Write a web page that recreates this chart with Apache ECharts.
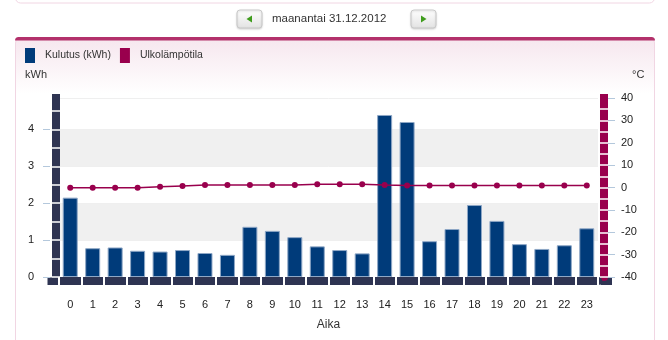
<!DOCTYPE html>
<html>
<head>
<meta charset="utf-8">
<script src="https://cdn.jsdelivr.net/npm/echarts@6/dist/echarts.min.js"></script>
<style>
  html, body { margin: 0; padding: 0; background: #fff; }
  #chart { width: 668px; height: 340px; }
</style>
</head>
<body>
<div id="chart"></div>
<script>
// Hourly consumption and outdoor temperature for one day
const hours = ['0','1','2','3','4','5','6','7','8','9','10','11','12','13','14','15','16','17','18','19','20','21','22','23'];
const consumption = [2.15, 0.78, 0.80, 0.71, 0.69, 0.73, 0.65, 0.60, 1.36, 1.25, 1.08, 0.83, 0.73, 0.64, 4.39, 4.20, 0.97, 1.30, 1.95, 1.52, 0.89, 0.76, 0.86, 1.32];
const temperature = [-0.1, -0.1, -0.1, -0.1, 0.3, 0.7, 1.1, 1.1, 1.1, 1.1, 1.1, 1.4, 1.4, 1.4, 1.1, 0.9, 0.9, 0.9, 0.9, 0.9, 0.9, 0.9, 0.9, 0.9];

// Axis ranges and tick values
const kwhMax = 4.85;
const kwhColumnTicks = [0, 0.5, 1, 1.5, 2, 2.5, 3, 3.5, 4, 4.5];
const tempMin = -40, tempMax = 40;
const tempColumnTicks = [-40, -35, -30, -25, -20, -15, -10, -5, 0, 5, 10, 15, 20, 25, 30, 35];

const dateLabel = 'maanantai 31.12.2012';
const seriesNames = ['Kulutus (kWh)', 'Ulkolämpötila'];

const FONT = 'Liberation Sans, Arial, sans-serif';
const NAVY = '#2e3452';
const BAR = '#003b7a';
const MAGENTA = '#99004d';
const TICK = '#b4c8dc';

const chart = echarts.init(document.getElementById('chart'), null, { renderer: 'canvas' });

function button(x, dir) {
  const cx = x + 12.5, cy = 19;
  const pts = dir < 0
    ? [[cx - 3, cy], [cx + 2.5, cy - 3.5], [cx + 2.5, cy + 3.5]]
    : [[cx + 3, cy], [cx - 2.5, cy - 3.5], [cx - 2.5, cy + 3.5]];
  return {
    type: 'group',
    children: [
      {
        type: 'rect',
        shape: { x: x, y: 10, width: 25, height: 18, r: 3 },
        style: {
          fill: new echarts.graphic.LinearGradient(0, 0, 0, 1, [
            { offset: 0, color: '#ffffff' },
            { offset: 1, color: '#e2e2e2' }
          ]),
          stroke: '#c9c9c9',
          lineWidth: 1,
          shadowBlur: 2,
          shadowOffsetY: 1,
          shadowColor: 'rgba(0,0,0,0.15)'
        }
      },
      { type: 'polygon', shape: { points: pts }, style: { fill: '#3f9c1d' } }
    ]
  };
}

// Decorative axis column: a thick axis line, plus a twin axis placed on the
// column's inner edge whose outward ticks cut white separators across it.
function columnAxes(position, lineOffset, tickOffset, min, max, ticks, color) {
  return [
    {
      type: 'value', position: position, offset: lineOffset, min: min, max: max, z: 2,
      axisLine: { show: true, onZero: false, symbol: ['none', 'rect'], symbolSize: [8, 8], lineStyle: { color: color, width: 8 } },
      axisTick: { show: false },
      axisLabel: { show: false },
      splitLine: { show: false }
    },
    {
      type: 'value', position: position, offset: tickOffset, min: min, max: max, z: 4,
      axisLine: { show: false, onZero: false },
      axisTick: { show: true, length: 8, customValues: ticks, lineStyle: { color: '#fff', width: 1.5 } },
      axisLabel: { show: false },
      splitLine: { show: false }
    }
  ];
}

const option = {
  animation: false,
  textStyle: { fontFamily: FONT },
  graphic: [
    // panel above
    {
      type: 'rect', z: -10,
      shape: { x: 15.5, y: -12, width: 639, height: 15, r: 5 },
      style: { fill: '#fff', stroke: '#f1d6e3', lineWidth: 1 }
    },
    // chart panel
    {
      type: 'rect', z: -10,
      shape: { x: 15.5, y: 38, width: 639, height: 330, r: [5, 5, 0, 0] },
      style: {
        fill: new echarts.graphic.LinearGradient(0, 0, 0, 1, [
          { offset: 0, color: '#f6e6ee' },
          { offset: 0.17, color: '#ffffff' },
          { offset: 1, color: '#ffffff' }
        ]),
        stroke: '#f1d6e3', lineWidth: 1
      }
    },
    {
      type: 'rect', z: -9,
      shape: { x: 15, y: 37, width: 640, height: 3.5, r: [5, 5, 0, 0] },
      style: { fill: '#b3316b' }
    },
    button(237, -1),
    button(411, 1),
    // end caps of the floor band
    { type: 'rect', z: -1, shape: { x: 47.5, y: 277.5, width: 10.5, height: 7.5 }, style: { fill: NAVY } },
    { type: 'rect', z: -1, shape: { x: 600.5, y: 277.5, width: 11.5, height: 7.5 }, style: { fill: NAVY } }
  ],
  title: {
    text: dateLabel,
    left: 272,
    top: 13,
    padding: 0,
    textStyle: { fontSize: 11.5, fontWeight: 'normal', color: '#333', fontFamily: FONT }
  },
  legend: {
    data: seriesNames,
    left: 25,
    top: 48,
    padding: 0,
    icon: 'rect',
    itemWidth: 10,
    itemHeight: 15,
    itemGap: 9,
    itemStyle: { borderWidth: 0 },
    textStyle: { fontSize: 10.5, color: '#333', fontFamily: FONT, padding: [0, 0, 0, 5] }
  },
  grid: { left: 59, right: 70, top: 98, bottom: 63, containLabel: false },
  xAxis: [
    {
      type: 'category',
      data: hours,
      position: 'bottom',
      offset: 4,
      z: 2,
      axisLine: { show: true, onZero: false, lineStyle: { color: NAVY, width: 8 } },
      axisTick: { show: false },
      axisLabel: { fontSize: 11, color: '#222', margin: 18, fontFamily: FONT },
      name: 'Aika',
      nameLocation: 'middle',
      nameGap: 38,
      nameTextStyle: { fontSize: 12, color: '#333', fontFamily: FONT },
      splitLine: { show: false }
    },
    {
      type: 'category',
      data: hours,
      position: 'bottom',
      offset: 0,
      z: 4,
      axisLine: { show: false, onZero: false },
      axisTick: { show: true, length: 8.5, lineStyle: { color: '#fff', width: 2 } },
      axisLabel: { show: false },
      splitLine: { show: false }
    }
  ],
  yAxis: [
    {
      // kWh scale
      type: 'value',
      position: 'left',
      offset: 9,
      min: 0,
      max: kwhMax,
      interval: 1,
      name: 'kWh',
      nameLocation: 'end',
      nameGap: 23,
      nameTextStyle: { fontSize: 11, color: '#333', align: 'right', verticalAlign: 'middle', padding: [0, 3, 0, 0], fontFamily: FONT },
      axisLine: { show: false, onZero: false },
      axisTick: { show: true, length: 7, lineStyle: { color: TICK } },
      axisLabel: { fontSize: 11, color: '#222', margin: 16, showMaxLabel: false, fontFamily: FONT },
      splitLine: { show: true, lineStyle: { color: '#efefef' } },
      splitArea: { show: true, areaStyle: { color: ['rgba(255,255,255,0)', '#f0f0f0'] } }
    },
    {
      // temperature scale
      type: 'value',
      position: 'right',
      offset: 10,
      min: tempMin,
      max: tempMax,
      interval: 10,
      name: '°C',
      nameLocation: 'end',
      nameGap: 23,
      nameTextStyle: { fontSize: 11, color: '#333', align: 'left', verticalAlign: 'middle', padding: [0, 0, 0, 24], fontFamily: FONT },
      axisLine: { show: false, onZero: false },
      axisTick: { show: true, length: 7, lineStyle: { color: TICK } },
      axisLabel: { fontSize: 11, color: '#222', margin: 13, fontFamily: FONT },
      splitLine: { show: false }
    }
  ]
    .concat(columnAxes('left', 3, -1, 0, kwhMax, kwhColumnTicks, NAVY))
    .concat(columnAxes('right', 6, 2, tempMin, tempMax, tempColumnTicks, MAGENTA)),
  series: [
    {
      name: seriesNames[0],
      type: 'bar',
      xAxisIndex: 0,
      yAxisIndex: 0,
      data: consumption,
      barWidth: 15,
      itemStyle: { color: BAR, borderColor: '#8ea7c6', borderWidth: 1 }
    },
    {
      name: seriesNames[1],
      type: 'line',
      xAxisIndex: 0,
      yAxisIndex: 1,
      data: temperature,
      symbol: 'circle',
      symbolSize: 6,
      lineStyle: { color: MAGENTA, width: 1.5 },
      itemStyle: { color: MAGENTA },
      z: 5
    }
  ]
};

chart.setOption(option);
</script>
</body>
</html>
